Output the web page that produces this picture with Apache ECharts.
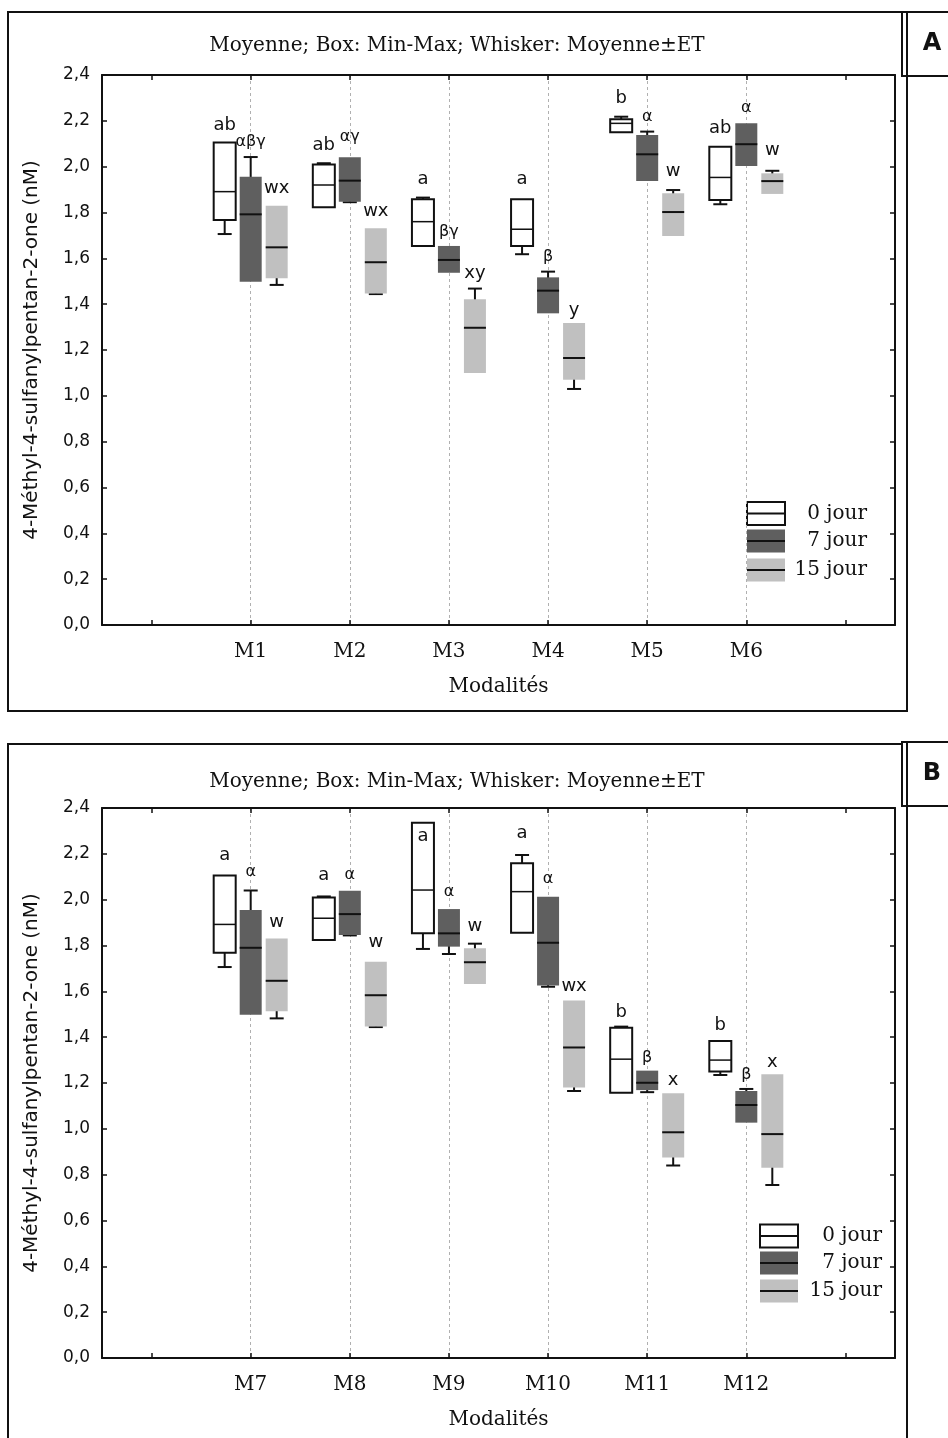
<!DOCTYPE html>
<html><head><meta charset="utf-8">
<script src="https://cdn.jsdelivr.net/npm/echarts@6/dist/echarts.min.js"></script>
<style>html,body{margin:0;padding:0;background:#fff}#c{width:948px;height:1438px}</style>
</head><body><div id="c"></div>
<script>
// ---------- DATA ----------
const categoriesA = ['', 'M1', 'M2', 'M3', 'M4', 'M5', 'M6', ''];
const categoriesB = ['', 'M7', 'M8', 'M9', 'M10', 'M11', 'M12', ''];
const seriesNames = ['0 jour', '7 jour', '15 jour'];
const yTicks = [0, 0.2, 0.4, 0.6, 0.8, 1.0, 1.2, 1.4, 1.6, 1.8, 2.0, 2.2, 2.4];
// [category, min, max, mean, sd]
const A_day0 = [
  ['M1', 1.767, 2.106, 1.891, 0.185],
  ['M2', 1.823, 2.010, 1.920, 0.095],
  ['M3', 1.654, 1.858, 1.760, 0.105],
  ['M4', 1.654, 1.858, 1.727, 0.109],
  ['M5', 2.150, 2.207, 2.189, 0.029],
  ['M6', 1.855, 2.087, 1.953, 0.117]
];
const A_day7 = [
  ['M1', 1.498, 1.956, 1.792, 0.250],
  ['M2', 1.847, 2.041, 1.939, 0.094],
  ['M3', 1.537, 1.654, 1.593, 0.040],
  ['M4', 1.360, 1.517, 1.459, 0.083],
  ['M5', 1.937, 2.138, 2.054, 0.099],
  ['M6', 2.003, 2.189, 2.098, 0.080]
];
const A_day15 = [
  ['M1', 1.513, 1.830, 1.648, 0.164],
  ['M2', 1.447, 1.731, 1.583, 0.139],
  ['M3', 1.100, 1.421, 1.297, 0.171],
  ['M4', 1.070, 1.318, 1.165, 0.135],
  ['M5', 1.697, 1.884, 1.802, 0.096],
  ['M6', 1.881, 1.971, 1.937, 0.045]
];
const B_day0 = [
  ['M7', 1.768, 2.105, 1.892, 0.186],
  ['M8', 1.824, 2.010, 1.919, 0.095],
  ['M9', 1.853, 2.336, 2.042, 0.257],
  ['M10', 1.856, 2.159, 2.035, 0.160],
  ['M11', 1.158, 1.441, 1.304, 0.142],
  ['M12', 1.250, 1.383, 1.300, 0.065]
];
const B_day7 = [
  ['M7', 1.498, 1.955, 1.790, 0.250],
  ['M8', 1.846, 2.039, 1.937, 0.093],
  ['M9', 1.795, 1.959, 1.853, 0.090],
  ['M10', 1.625, 2.013, 1.812, 0.192],
  ['M11', 1.169, 1.254, 1.201, 0.041],
  ['M12', 1.027, 1.165, 1.104, 0.070]
];
const B_day15 = [
  ['M7', 1.513, 1.831, 1.646, 0.164],
  ['M8', 1.447, 1.729, 1.583, 0.139],
  ['M9', 1.632, 1.788, 1.727, 0.081],
  ['M10', 1.180, 1.560, 1.355, 0.190],
  ['M11', 0.875, 1.155, 0.985, 0.145],
  ['M12', 0.830, 1.238, 0.977, 0.222]
];
// significance letters: [category, group (0/7/15 jour), anchor value, text]
const lettersA = [
  ['M1', 0, 2.182, 'ab'], ['M1', 1, 2.108, 'αβγ'], ['M1', 2, 1.907, 'wx'],
  ['M2', 0, 2.095, 'ab'], ['M2', 1, 2.129, 'αγ'], ['M2', 2, 1.806, 'wx'],
  ['M3', 0, 1.946, 'a'], ['M3', 1, 1.715, 'βγ'], ['M3', 2, 1.536, 'xy'],
  ['M4', 0, 1.946, 'a'], ['M4', 1, 1.606, 'β'], ['M4', 2, 1.375, 'y'],
  ['M5', 0, 2.300, 'b'], ['M5', 1, 2.217, 'α'], ['M5', 2, 1.981, 'w'],
  ['M6', 0, 2.169, 'ab'], ['M6', 1, 2.256, 'α'], ['M6', 2, 2.073, 'w']
];
const lettersB = [
  ['M7', 0, 2.195, 'a'], ['M7', 1, 2.121, 'α'], ['M7', 2, 1.903, 'w'],
  ['M8', 0, 2.108, 'a'], ['M8', 1, 2.108, 'α'], ['M8', 2, 1.815, 'w'],
  ['M9', 0, 2.278, 'a'], ['M9', 1, 2.033, 'α'], ['M9', 2, 1.885, 'w'],
  ['M10', 0, 2.291, 'a'], ['M10', 1, 2.090, 'α'], ['M10', 2, 1.620, 'wx'],
  ['M11', 0, 1.510, 'b'], ['M11', 1, 1.309, 'β'], ['M11', 2, 1.213, 'x'],
  ['M12', 0, 1.453, 'b'], ['M12', 1, 1.235, 'β'], ['M12', 2, 1.292, 'x']
];
const titleText = 'Moyenne; Box: Min-Max; Whisker: Moyenne±ET';
const yName = '4-Méthyl-4-sulfanylpentan-2-one (nM)';
const xName = 'Modalités';

// ---------- STYLE ----------
const OFFSETS = [-26, 0, 26];
const FILLS = ['#ffffff', '#5f5f5f', '#c0c0c0'];
const INK = '#111';
const SERIF = 'DejaVu Serif';
const SANS = 'DejaVu Sans';

function boxRender(g) {
  return function (params, api) {
    const cat = api.value(0);
    const mn = api.value(1), mx = api.value(2), mean = api.value(3), sd = api.value(4);
    const cm = api.coord([cat, mean]);
    const x = cm[0] + OFFSETS[g];
    const yMin = api.coord([cat, mn])[1], yMax = api.coord([cat, mx])[1];
    const yLo = api.coord([cat, mean - sd])[1], yHi = api.coord([cat, mean + sd])[1];
    const w = 22, cap = 7;
    const ls = { stroke: INK, lineWidth: 2 };
    return {
      type: 'group',
      children: [
        { type: 'line', shape: { x1: x, y1: yLo, x2: x, y2: yHi }, style: ls },
        { type: 'line', shape: { x1: x - cap, y1: yLo, x2: x + cap, y2: yLo }, style: ls },
        { type: 'line', shape: { x1: x - cap, y1: yHi, x2: x + cap, y2: yHi }, style: ls },
        { type: 'rect', shape: { x: x - w / 2, y: yMax, width: w, height: yMin - yMax },
          style: g === 0 ? { fill: FILLS[g], stroke: INK, lineWidth: 2 } : { fill: FILLS[g], stroke: null } },
        { type: 'line', shape: { x1: x - w / 2, y1: cm[1], x2: x + w / 2, y2: cm[1] },
          style: { stroke: INK, lineWidth: g === 0 ? 1.5 : 2 } }
      ]
    };
  };
}
function letterRender(arr) {
  return function (params, api) {
    const item = arr[params.dataIndex];
    const c = api.coord([api.value(0), api.value(1)]);
    const greek = /[αβγ]/.test(item[3]);
    return {
      type: 'text',
      x: c[0] + OFFSETS[item[1]], y: c[1],
      style: { text: item[3], fill: INK, font: (greek ? '16px ' : '18px ') + SANS,
               align: 'center', verticalAlign: 'middle' }
    };
  };
}

function xAxes(gi, cats) {
  return [{
    type: 'category', gridIndex: gi, data: cats, position: 'bottom',
    axisLine: { show: true, onZero: false, lineStyle: { color: INK, width: 2 } },
    axisTick: { show: true, inside: true, alignWithLabel: true, interval: 0, length: 5, lineStyle: { color: INK, width: 1.5 } },
    axisLabel: { interval: 0, margin: 17, fontFamily: SERIF, fontSize: 20, color: INK },
    splitLine: { show: true, alignWithLabel: true, interval: (i) => i >= 1 && i <= 6,
                 lineStyle: { color: '#b0b0b0', type: [3, 3], width: 1 } },
    name: xName, nameLocation: 'middle', nameGap: 52,
    nameTextStyle: { fontFamily: SERIF, fontSize: 20, color: INK }
  }, {
    type: 'category', gridIndex: gi, data: cats, position: 'top',
    axisLine: { show: true, onZero: false, lineStyle: { color: INK, width: 2 } },
    axisTick: { show: true, inside: true, alignWithLabel: true, interval: 0, length: 5, lineStyle: { color: INK, width: 1.5 } },
    axisLabel: { show: false }, splitLine: { show: false }
  }];
}
function yAxes(gi) {
  return [{
    type: 'value', gridIndex: gi, min: yTicks[0], max: yTicks[yTicks.length - 1], interval: 0.2, position: 'left',
    axisLine: { show: true, onZero: false, lineStyle: { color: INK, width: 2 } },
    axisTick: { show: true, inside: true, length: 5, lineStyle: { color: INK, width: 1.5 } },
    axisLabel: { margin: 12, formatter: (v) => v.toFixed(1).replace('.', ','), fontFamily: SANS, fontSize: 17, color: INK },
    splitLine: { show: false },
    name: yName, nameLocation: 'middle', nameGap: 60, nameRotate: 90,
    nameTextStyle: { fontFamily: SANS, fontSize: 20, color: INK }
  }, {
    type: 'value', gridIndex: gi, min: yTicks[0], max: yTicks[yTicks.length - 1], interval: 0.2, position: 'right',
    axisLine: { show: true, onZero: false, lineStyle: { color: INK, width: 2 } },
    axisTick: { show: true, inside: true, length: 5, lineStyle: { color: INK, width: 1.5 } },
    axisLabel: { show: false }, splitLine: { show: false }
  }];
}

function panelSeries(xi, yi, d0, d7, d15, letters) {
  const dims = ['cat', 'min', 'max', 'mean', 'sd'];
  const s = [d0, d7, d15].map((d, g) => ({
    type: 'custom', name: seriesNames[g], xAxisIndex: xi, yAxisIndex: yi,
    dimensions: dims, encode: { x: 0, y: [1, 2, 3] },
    renderItem: boxRender(g), data: d, z: 3
  }));
  s.push({
    type: 'custom', xAxisIndex: xi, yAxisIndex: yi,
    encode: { x: 0, y: 1 },
    renderItem: letterRender(letters),
    data: letters.map(l => [l[0], l[2]]), z: 4
  });
  return s;
}

function legendGraphic(x, yc, textRight) {
  const els = [];
  yc.forEach((y, g) => {
    els.push({ type: 'rect', shape: { x: x, y: y - 11.5, width: 38, height: 23 },
      style: g === 0 ? { fill: '#fff', stroke: INK, lineWidth: 2 } : { fill: FILLS[g], stroke: null } });
    els.push({ type: 'line', shape: { x1: x, y1: y, x2: x + 38, y2: y }, style: { stroke: INK, lineWidth: 2 } });
    els.push({ type: 'text', x: textRight, y: y,
      style: { text: seriesNames[g], font: '20px ' + SERIF, fill: INK, align: 'right', verticalAlign: 'middle' } });
  });
  return els;
}

function frameGraphic(top, h, boxTop, letter) {
  return [
    { type: 'rect', shape: { x: 8, y: top, width: 899, height: h }, style: { fill: null, stroke: INK, lineWidth: 2 } },
    { type: 'rect', shape: { x: 902, y: boxTop, width: 60, height: 64 }, style: { fill: '#fff', stroke: INK, lineWidth: 2 } },
    { type: 'line', shape: { x1: 907, y1: boxTop, x2: 907, y2: boxTop + 64 }, style: { stroke: INK, lineWidth: 2 } },
    { type: 'text', x: 932, y: boxTop + 32,
      style: { text: letter, font: 'bold 24px ' + SANS, fill: INK, align: 'center', verticalAlign: 'middle' } }
  ];
}

const option = {
  animation: false,
  backgroundColor: '#fff',
  grid: [
    { left: 102, top: 75, width: 793, height: 550 },
    { left: 102, top: 808, width: 793, height: 550 }
  ],
  xAxis: [...xAxes(0, categoriesA), ...xAxes(1, categoriesB)],
  yAxis: [...yAxes(0), ...yAxes(1)],
  series: [
    ...panelSeries(0, 0, A_day0, A_day7, A_day15, lettersA),
    ...panelSeries(2, 2, B_day0, B_day7, B_day15, lettersB)
  ],
  graphic: [
    ...frameGraphic(12, 699, 12, 'A'),
    ...frameGraphic(744, 720, 742, 'B'),
    { type: 'text', x: 457, y: 46, style: { text: titleText, font: '20px ' + SERIF, fill: INK, align: 'center', verticalAlign: 'middle' } },
    { type: 'text', x: 457, y: 782, style: { text: titleText, font: '20px ' + SERIF, fill: INK, align: 'center', verticalAlign: 'middle' } },
    ...legendGraphic(747, [513.5, 541, 570], 867),
    ...legendGraphic(760, [1236, 1263, 1291], 882)
  ]
};
const chart = echarts.init(document.getElementById('c'), null, { renderer: 'canvas' });
chart.setOption(option);
</script></body></html>
